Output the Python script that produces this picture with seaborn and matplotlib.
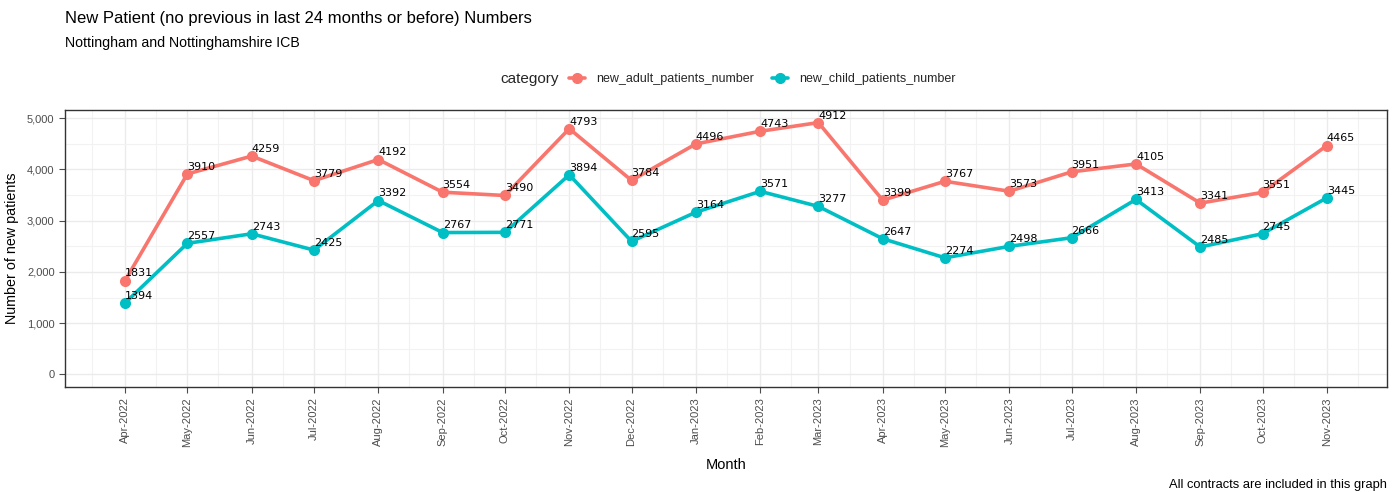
import numpy as np
import pandas as pd
import matplotlib
matplotlib.use("Agg")
import matplotlib.pyplot as plt
import matplotlib.dates as mdates
from matplotlib.ticker import FuncFormatter, MultipleLocator
from matplotlib.lines import Line2D
import seaborn as sns

months = ["2022-04", "2022-05", "2022-06", "2022-07", "2022-08", "2022-09", "2022-10",
          "2022-11", "2022-12", "2023-01", "2023-02", "2023-03", "2023-04", "2023-05",
          "2023-06", "2023-07", "2023-08", "2023-09", "2023-10", "2023-11"]
adult = [1831, 3910, 4259, 3779, 4192, 3554, 3490, 4793, 3784, 4496, 4743, 4912,
         3399, 3767, 3573, 3951, 4105, 3341, 3551, 4465]
child = [1394, 2557, 2743, 2425, 3392, 2767, 2771, 3894, 2595, 3164, 3571, 3277,
         2647, 2274, 2498, 2666, 3413, 2485, 2745, 3445]
categories = ["new_adult_patients_number", "new_child_patients_number"]
colors = ["#F8766D", "#00BFC4"]

dates = pd.to_datetime(months)
df = pd.concat([
    pd.DataFrame({"Month": dates, "value": adult, "category": categories[0]}),
    pd.DataFrame({"Month": dates, "value": child, "category": categories[1]}),
])

sns.set_theme(style="white")
plt.rcParams['font.family'] = ['Liberation Sans', 'DejaVu Sans']

fig = plt.figure(figsize=(13.96, 4.92), dpi=100)
ax = fig.add_axes([65/1396, 1 - 387/492, (1387-65)/1396, (387-110)/492])

sns.lineplot(data=df, x="Month", y="value", hue="category", palette=colors,
             hue_order=categories, linewidth=2.6, marker="o", markersize=8,
             markeredgewidth=0, ax=ax, legend=False, zorder=3)

for vals in (adult, child):
    for d, v in zip(dates, vals):
        ax.annotate(str(v), (mdates.date2num(d), v), xytext=(0, 1.5),
                    textcoords="offset points", ha="left", va="bottom",
                    fontsize=8, family="DejaVu Sans", color="black", zorder=4)

# limits (ggplot-style 5% expansion)
x0, x1 = mdates.date2num(dates[0]), mdates.date2num(dates[-1])
xr = x1 - x0
ax.set_xlim(x0 - 0.05 * xr, x1 + 0.05 * xr)
ymax = max(adult)
ax.set_ylim(-0.05 * ymax, ymax * 1.05)

ax.xaxis.set_major_locator(mdates.MonthLocator())
ax.xaxis.set_major_formatter(mdates.DateFormatter("%b-%Y"))
ax.xaxis.set_minor_locator(mdates.MonthLocator(bymonthday=16))
ax.yaxis.set_major_locator(MultipleLocator(1000))
ax.yaxis.set_minor_locator(MultipleLocator(500))
ax.yaxis.set_major_formatter(FuncFormatter(lambda v, p: f"{int(v):,}"))

ax.grid(True, which="major", color="#EBEBEB", linewidth=1.0, zorder=0)
ax.grid(True, which="minor", color="#F2F2F2", linewidth=0.8, zorder=0)
ax.set_axisbelow(True)
for s in ax.spines.values():
    s.set_color("#333333")
    s.set_linewidth(1.0)
    s.set_visible(True)

ax.tick_params(axis="x", which="major", rotation=90, labelsize=8, colors="#4D4D4D",
               length=4, width=0.8, bottom=True)
ax.tick_params(axis="y", which="major", labelsize=8, colors="#4D4D4D",
               length=4, width=0.8, left=True)
ax.tick_params(which="minor", length=0)
ax.set_xlabel("Month", fontsize=10.5, color="black", labelpad=8)
ax.set_ylabel("Number of new patients", fontsize=10.3, color="black", labelpad=6)

fig.text(65/1396, 1 - 18/492, "New Patient (no previous in last 24 months or before) Numbers",
         fontsize=12, va="center", ha="left", color="black")
fig.text(65/1396, 1 - 43/492, "Nottingham and Nottinghamshire ICB",
         fontsize=10.2, va="center", ha="left", color="black")
fig.text(1387/1396, 1 - 485/492, "All contracts are included in this graph",
         fontsize=9.3, va="center", ha="right", color="black")

fig.text(500/1396, 1 - 79/492, "category", fontsize=11, va="center", ha="left")
handles = [Line2D([0], [0], color=c, lw=2.6, marker="o", markersize=7) for c in colors]
fig.legend(handles, categories, loc="center left", bbox_to_anchor=(569/1396, 1 - 79/492),
           ncol=2, frameon=False, fontsize=9, handlelength=1.3, handletextpad=0.9,
           columnspacing=1.4, borderaxespad=0, borderpad=0)

fig.savefig("out.png", dpi=100)
